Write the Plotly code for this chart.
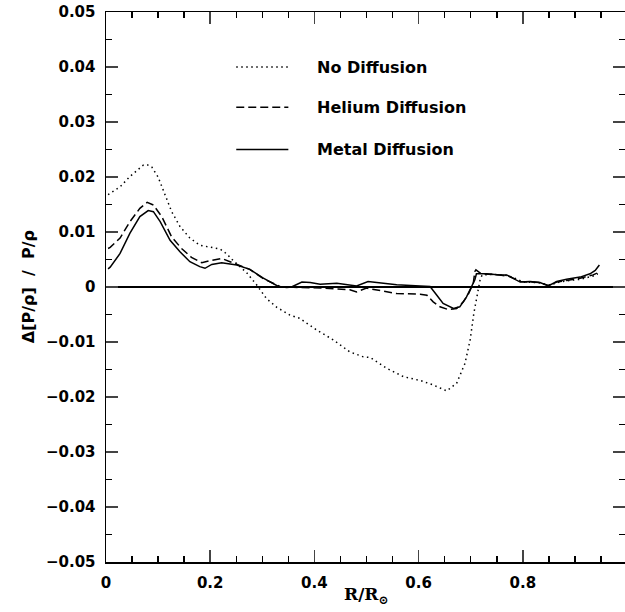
import plotly.graph_objects as go

# No Diffusion (dotted)
x_nodiff = [0.004, 0.027, 0.046, 0.060, 0.072, 0.080, 0.088, 0.100, 0.113, 0.126, 0.142, 0.161, 0.180,
            0.200, 0.219, 0.232, 0.244, 0.256, 0.270, 0.289, 0.308, 0.328, 0.353, 0.372, 0.404, 0.436,
            0.468, 0.494, 0.507, 0.539, 0.571, 0.603, 0.628, 0.654, 0.673, 0.689, 0.699, 0.706, 0.713,
            0.718, 0.722, 0.740, 0.769, 0.788, 0.800, 0.830, 0.850, 0.870, 0.890, 0.910, 0.935, 0.944]
y_nodiff = [0.0168, 0.0182, 0.0201, 0.0213, 0.0222, 0.0222, 0.0218, 0.0200, 0.0170, 0.0137, 0.0110, 0.0089, 0.0076,
            0.0073, 0.0069, 0.0060, 0.0048, 0.0038, 0.0026, 0.0004, -0.0021, -0.0037, -0.0051, -0.0057, -0.0078, -0.0096,
            -0.0118, -0.0127, -0.0128, -0.0148, -0.0163, -0.0170, -0.0178, -0.0189, -0.0175, -0.0139, -0.0096, -0.0048, -0.0011,
            0.0013, 0.0022, 0.0023, 0.0021, 0.0015, 0.0009, 0.0008, 0.0003, 0.0009, 0.0012, 0.0014, 0.0020, 0.0024]

# Helium Diffusion (dashed)
x_helium = [0.004, 0.008, 0.027, 0.046, 0.065, 0.079, 0.091, 0.107, 0.126, 0.145, 0.164, 0.184, 0.200,
            0.222, 0.238, 0.251, 0.276, 0.302, 0.334, 0.372, 0.417, 0.468, 0.481, 0.500, 0.532, 0.558,
            0.603, 0.616, 0.628, 0.641, 0.657, 0.673, 0.686, 0.696, 0.705, 0.708, 0.710, 0.720, 0.756,
            0.775, 0.795, 0.833, 0.849, 0.865, 0.884, 0.910, 0.935, 0.944]
y_helium = [0.0070, 0.0072, 0.0089, 0.0119, 0.0143, 0.0154, 0.0149, 0.0128, 0.0091, 0.0070, 0.0054, 0.0044, 0.0048,
            0.0052, 0.0046, 0.0041, 0.0032, 0.0015, 0.0001, -0.0001, -0.0002, -0.0005, -0.0009, -0.0002, -0.0007, -0.0012,
            -0.0013, -0.0015, -0.0027, -0.0036, -0.0041, -0.0039, -0.0027, -0.0012, 0.0007, 0.0028, 0.0031, 0.0024, 0.0022,
            0.0019, 0.0010, 0.0008, 0.0003, 0.0009, 0.0012, 0.0016, 0.0022, 0.0026]

# Metal Diffusion (solid)
x_metal = [0.004, 0.008, 0.027, 0.046, 0.065, 0.081, 0.091, 0.104, 0.123, 0.142, 0.161, 0.180, 0.190,
           0.203, 0.222, 0.238, 0.251, 0.276, 0.302, 0.331, 0.347, 0.356, 0.376, 0.392, 0.411, 0.443,
           0.462, 0.481, 0.503, 0.526, 0.558, 0.603, 0.622, 0.635, 0.647, 0.667, 0.679, 0.692, 0.702,
           0.708, 0.711, 0.731, 0.756, 0.769, 0.775, 0.795, 0.814, 0.833, 0.849, 0.865, 0.884, 0.910,
           0.929, 0.939, 0.947]
y_metal = [0.0033, 0.0036, 0.0061, 0.0098, 0.0128, 0.0139, 0.0137, 0.0119, 0.0085, 0.0064, 0.0046, 0.0037, 0.0034,
           0.0041, 0.0044, 0.0042, 0.0040, 0.0032, 0.0016, 0.0001, -0.0001, 0.0000, 0.0009, 0.0008, 0.0005, 0.0007,
           0.0004, 0.0002, 0.0010, 0.0007, 0.0004, 0.0002, 0.0001, -0.0015, -0.0030, -0.0039, -0.0036, -0.0018, 0.0001,
           0.0013, 0.0024, 0.0024, 0.0022, 0.0022, 0.0019, 0.0009, 0.0010, 0.0008, 0.0002, 0.0010, 0.0014, 0.0018,
           0.0024, 0.0030, 0.0040]

legend_labels = ["No Diffusion", "Helium Diffusion", "Metal Diffusion"]
legend_y = [0.040, 0.0327, 0.025]
dashes = ["1.5px,3.5px", "8px,4px", "solid"]

fig = go.Figure()
series = [(x_nodiff, y_nodiff), (x_helium, y_helium), (x_metal, y_metal)]
for (xs, ys), d, name in zip(series, dashes, legend_labels):
    fig.add_trace(go.Scatter(x=xs, y=ys, mode="lines", name=name,
                             line=dict(color="black", width=1.5, dash=d),
                             showlegend=False))

# legend samples
for ly, d, name in zip(legend_y, dashes, legend_labels):
    fig.add_trace(go.Scatter(x=[0.25, 0.35], y=[ly, ly], mode="lines",
                             line=dict(color="black", width=1.5, dash=d),
                             showlegend=False, hoverinfo="skip"))
    fig.add_annotation(x=0.402, y=ly, xref="x", yref="y", text=name, showarrow=False,
                       xanchor="left", yanchor="middle",
                       font=dict(family="DejaVu Sans", size=16, color="black", weight="bold"))

tickfont = dict(family="DejaVu Sans", size=15, color="black", weight="bold")
fig.update_xaxes(range=[0, 519 / 521], tick0=0, dtick=0.2, ticks="inside", ticklen=12, tickwidth=1.5,
                 minor=dict(ticks="inside", dtick=0.05, ticklen=6, tickwidth=1.5, tickcolor="black"),
                 showline=True, linecolor="black", linewidth=1.5, mirror="allticks",
                 showgrid=False, zeroline=False, tickfont=tickfont, ticklabelstandoff=6,
                 ticklabeloverflow="allow", automargin=False)
fig.update_yaxes(range=[-0.05, 0.05], tick0=0, dtick=0.01, ticks="inside", ticklen=12, tickwidth=1.5,
                 minor=dict(ticks="inside", dtick=0.005, ticklen=6, tickwidth=1.5, tickcolor="black"),
                 showline=True, linecolor="black", linewidth=1.5, mirror="allticks",
                 showgrid=False, zeroline=True, zerolinecolor="black", zerolinewidth=1.5,
                 tickfont=tickfont, ticklabelstandoff=6, ticklabeloverflow="allow", automargin=False)

fig.add_annotation(x=-0.150, y=0.5, xref="paper", yref="paper",
                   text="Δ[P/ρ]\u00a0\u00a0/\u00a0\u00a0P/ρ", textangle=-90, showarrow=False,
                   xanchor="center", yanchor="middle",
                   font=dict(family="DejaVu Sans", size=16, color="black", weight="bold"))
fig.add_annotation(x=0.501, y=-0.06, xref="paper", yref="paper",
                   text="R/R<sub>⊙</sub>", showarrow=False,
                   xanchor="center", yanchor="middle",
                   font=dict(family="DejaVu Serif", size=17, color="black", weight="bold"))

fig.update_layout(width=625, height=612, margin=dict(l=106, r=0, t=12, b=50),
                  plot_bgcolor="white", paper_bgcolor="white", showlegend=False)

# remove the page's default body margin so the figure starts at the window corner
fig.write_html("out.html", config={"displayModeBar": False, "staticPlot": True},
               post_script="document.body.style.margin='0';document.body.style.overflow='hidden';")
